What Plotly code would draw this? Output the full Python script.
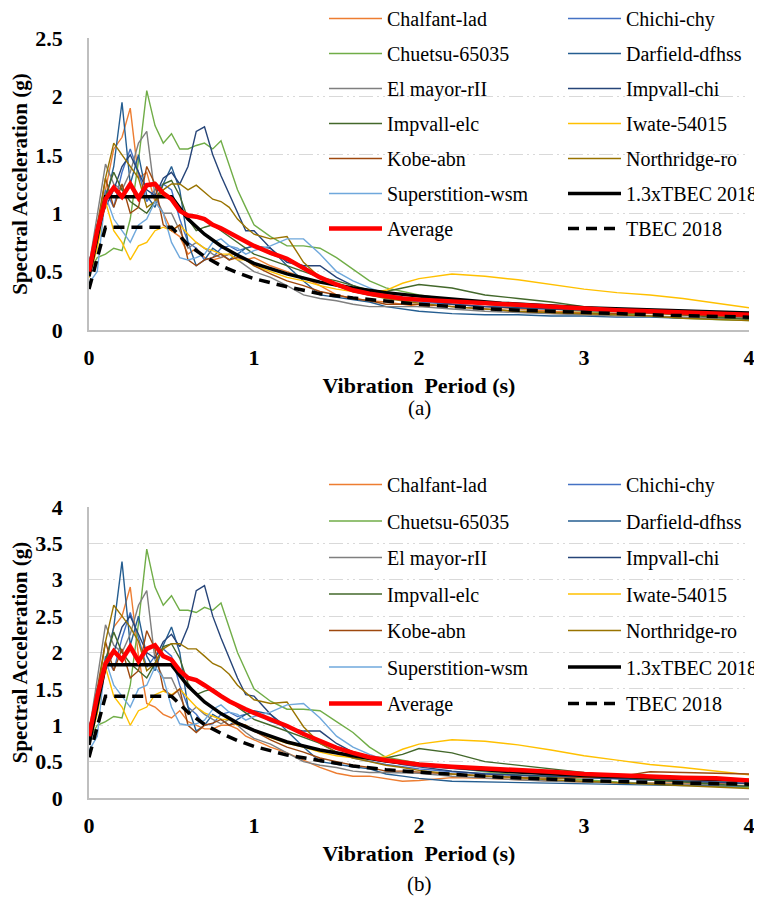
import plotly.graph_objects as go

# ---------------- data ----------------
periods = [0, 0.05, 0.1, 0.15, 0.2, 0.25, 0.3, 0.35, 0.4, 0.45, 0.5, 0.55, 0.6, 0.65, 0.7, 0.75,
           0.8, 0.85, 0.9, 0.95, 1.0, 1.1, 1.2, 1.3, 1.4, 1.5, 1.6, 1.7, 1.8, 1.9, 2.0, 2.2, 2.4,
           2.6, 2.8, 3.0, 3.2, 3.4, 3.6, 3.8, 4.0]

record_names = ["Chalfant-lad", "Chichi-chy", "Chuetsu-65035", "Darfield-dfhss", "El mayor-rII",
                "Impvall-chi", "Impvall-elc", "Iwate-54015", "Kobe-abn", "Northridge-ro",
                "Superstition-wsm"]

# panel (a)
chalfant_a = [0.50,0.90,1.20,1.55,1.65,1.90,1.30,1.35,1.10,1.00,0.85,0.80,0.65,0.70,0.62,0.60,0.62,0.65,0.65,0.60,0.62,0.55,0.50,0.45,0.38,0.30,0.27,0.25,0.24,0.22,0.20,0.22,0.20,0.18,0.16,0.15,0.14,0.14,0.13,0.12,0.12]
chichi_a = [0.45,0.75,1.20,1.05,1.35,1.55,1.35,1.10,1.20,1.25,1.20,0.95,0.75,0.70,0.60,0.62,0.70,0.72,0.68,0.70,0.72,0.65,0.60,0.55,0.45,0.38,0.33,0.30,0.28,0.26,0.24,0.22,0.20,0.19,0.18,0.17,0.16,0.15,0.14,0.13,0.12]
chuetsu_a = [0.50,0.62,0.65,0.70,0.68,0.95,1.45,2.05,1.75,1.60,1.68,1.55,1.55,1.58,1.60,1.55,1.62,1.40,1.20,1.05,0.90,0.80,0.72,0.72,0.70,0.62,0.52,0.42,0.36,0.33,0.30,0.26,0.22,0.20,0.18,0.16,0.14,0.12,0.10,0.09,0.08]
darfield_a = [0.60,0.75,1.10,1.40,1.95,1.25,1.50,1.15,1.05,1.25,1.40,1.20,0.75,0.55,0.60,0.70,0.65,0.60,0.65,0.70,0.72,0.70,0.55,0.42,0.30,0.28,0.26,0.24,0.20,0.18,0.16,0.14,0.13,0.13,0.12,0.12,0.11,0.11,0.10,0.10,0.10]
elmayor_a = [0.55,1.00,1.42,1.25,1.20,1.35,1.60,1.70,1.15,1.00,1.00,0.85,0.70,0.75,0.70,0.65,0.62,0.65,0.60,0.55,0.50,0.45,0.38,0.30,0.27,0.25,0.22,0.20,0.20,0.20,0.20,0.18,0.16,0.15,0.14,0.13,0.12,0.12,0.11,0.10,0.10]
impvallchi_a = [0.50,0.90,1.05,1.20,1.40,1.50,1.35,1.20,1.15,1.30,1.35,1.25,1.40,1.70,1.74,1.50,1.32,1.16,1.00,0.85,0.85,0.70,0.58,0.55,0.55,0.45,0.38,0.33,0.30,0.28,0.26,0.22,0.20,0.19,0.18,0.17,0.16,0.15,0.14,0.13,0.12]
impvallelc_a = [0.50,0.80,1.15,1.35,1.20,1.10,1.05,1.00,1.10,1.25,1.28,1.15,0.95,0.85,0.88,0.90,0.85,0.80,0.75,0.70,0.65,0.60,0.55,0.50,0.45,0.42,0.38,0.34,0.33,0.36,0.39,0.36,0.30,0.27,0.24,0.20,0.17,0.15,0.13,0.11,0.09]
iwate_a = [0.45,0.70,1.10,0.85,0.75,0.60,0.72,0.75,0.85,0.88,0.85,0.90,0.82,0.75,0.70,0.68,0.65,0.65,0.60,0.60,0.55,0.50,0.45,0.42,0.38,0.35,0.33,0.32,0.34,0.40,0.44,0.48,0.46,0.43,0.39,0.35,0.32,0.30,0.27,0.23,0.19]
kobe_a = [0.50,0.90,1.30,1.05,1.25,1.00,1.05,1.40,1.25,0.90,0.85,0.90,0.60,0.55,0.60,0.62,0.65,0.60,0.62,0.60,0.55,0.48,0.42,0.38,0.33,0.30,0.27,0.25,0.22,0.22,0.22,0.20,0.18,0.16,0.15,0.14,0.14,0.15,0.13,0.12,0.11]
northridge_a = [0.50,0.85,1.30,1.60,1.50,1.40,1.30,1.05,1.10,1.20,1.25,1.25,1.20,1.24,1.18,1.12,1.10,1.05,0.95,0.88,0.82,0.78,0.80,0.58,0.45,0.38,0.33,0.30,0.27,0.25,0.23,0.20,0.18,0.16,0.15,0.14,0.13,0.12,0.10,0.09,0.08]
superstition_a = [0.40,0.50,1.15,0.95,0.85,0.75,0.90,0.95,1.10,1.00,0.75,0.62,0.60,0.62,0.65,0.75,0.78,0.72,0.70,0.65,0.68,0.72,0.78,0.78,0.65,0.50,0.42,0.36,0.31,0.28,0.26,0.24,0.22,0.21,0.20,0.19,0.18,0.17,0.16,0.15,0.14]
average_a = [0.50,0.85,1.12,1.22,1.14,1.25,1.13,1.24,1.25,1.17,1.12,1.02,0.98,0.97,0.95,0.90,0.87,0.83,0.79,0.75,0.72,0.66,0.61,0.53,0.45,0.39,0.34,0.31,0.29,0.27,0.26,0.245,0.23,0.21,0.20,0.18,0.17,0.16,0.15,0.14,0.13]

# panel (b)
chalfant_b = [0.80,1.35,1.80,2.35,2.50,2.90,1.95,1.30,1.25,1.15,1.10,1.20,1.05,1.00,0.95,0.95,1.00,1.00,0.95,0.85,0.80,0.70,0.62,0.52,0.42,0.34,0.30,0.30,0.26,0.23,0.24,0.28,0.27,0.25,0.23,0.22,0.21,0.21,0.20,0.20,0.20]
chichi_b = [0.75,1.25,1.95,1.75,2.20,2.55,2.20,1.80,1.95,2.05,1.95,1.55,1.25,1.15,1.00,1.02,1.15,1.18,1.12,1.15,1.18,1.05,0.98,0.90,0.75,0.63,0.55,0.50,0.46,0.43,0.40,0.36,0.33,0.31,0.30,0.28,0.26,0.25,0.23,0.22,0.20]
chuetsu_b = [0.80,1.00,1.05,1.12,1.10,1.55,2.40,3.42,2.90,2.65,2.78,2.58,2.58,2.55,2.62,2.58,2.68,2.35,2.00,1.75,1.50,1.33,1.22,1.22,1.20,1.05,0.90,0.70,0.56,0.52,0.48,0.42,0.36,0.32,0.28,0.25,0.22,0.20,0.18,0.16,0.14]
darfield_b = [1.00,1.25,1.85,2.35,3.25,2.10,2.50,1.95,1.75,2.10,2.35,2.00,1.25,0.92,1.00,1.15,1.08,1.00,1.08,1.15,1.20,1.15,0.92,0.70,0.50,0.46,0.43,0.40,0.33,0.30,0.27,0.23,0.22,0.21,0.20,0.19,0.18,0.18,0.17,0.17,0.16]
elmayor_b = [0.90,1.65,2.38,2.10,2.00,2.25,2.65,2.85,1.90,1.65,1.65,1.40,1.15,1.25,1.15,1.08,1.02,1.08,1.00,0.90,0.82,0.74,0.62,0.50,0.45,0.42,0.37,0.35,0.35,0.35,0.34,0.30,0.27,0.25,0.23,0.22,0.20,0.20,0.18,0.17,0.17]
impvallchi_b = [0.85,1.50,1.75,2.00,2.35,2.50,2.25,2.00,1.92,2.15,2.25,2.08,2.35,2.85,2.92,2.50,2.20,1.92,1.65,1.42,1.40,1.15,0.97,0.92,0.92,0.75,0.63,0.55,0.50,0.46,0.43,0.37,0.33,0.32,0.30,0.28,0.27,0.25,0.23,0.22,0.20]
impvallelc_b = [0.85,1.35,1.90,2.28,2.00,1.85,1.75,1.65,1.85,2.08,2.12,1.92,1.58,1.42,1.47,1.50,1.42,1.33,1.25,1.17,1.08,1.00,0.92,0.83,0.75,0.70,0.63,0.57,0.55,0.60,0.68,0.62,0.50,0.45,0.40,0.34,0.29,0.25,0.22,0.19,0.16]
iwate_b = [0.75,1.15,1.80,1.40,1.25,1.00,1.20,1.25,1.42,1.47,1.42,1.50,1.37,1.25,1.17,1.13,1.08,1.08,1.00,1.00,0.92,0.83,0.75,0.70,0.63,0.58,0.55,0.53,0.57,0.67,0.74,0.80,0.78,0.73,0.66,0.58,0.52,0.46,0.42,0.37,0.32]
kobe_b = [0.85,1.50,2.15,1.75,2.05,1.65,1.75,2.30,2.05,1.50,1.40,1.50,1.00,0.90,1.00,1.03,1.08,1.00,1.03,1.00,0.92,0.80,0.70,0.63,0.55,0.50,0.45,0.42,0.37,0.37,0.36,0.33,0.30,0.28,0.27,0.28,0.29,0.36,0.35,0.34,0.33]
northridge_b = [0.85,1.40,2.15,2.65,2.50,2.35,2.15,1.75,1.85,2.05,2.12,2.12,2.05,2.05,1.95,1.85,1.80,1.70,1.55,1.45,1.35,1.30,1.32,0.98,0.75,0.63,0.55,0.50,0.45,0.42,0.38,0.33,0.30,0.27,0.25,0.23,0.21,0.19,0.17,0.15,0.13]
superstition_b = [0.65,0.85,1.90,1.55,1.40,1.25,1.50,1.55,1.80,1.65,1.25,1.02,1.00,1.02,1.07,1.22,1.28,1.18,1.15,1.07,1.12,1.18,1.28,1.30,1.10,0.85,0.70,0.60,0.52,0.47,0.44,0.40,0.37,0.35,0.33,0.31,0.30,0.28,0.27,0.25,0.23]
average_b = [0.85,1.40,1.85,2.02,1.90,2.08,1.88,2.05,2.10,1.95,1.90,1.75,1.65,1.62,1.55,1.47,1.40,1.33,1.27,1.22,1.17,1.08,0.99,0.88,0.78,0.69,0.62,0.56,0.52,0.49,0.46,0.43,0.41,0.38,0.36,0.33,0.31,0.30,0.28,0.27,0.24]

# design spectra (TBEC 2018) read at selected periods
code_periods = [0, 0.1, 0.5, 0.6, 0.7, 0.8, 0.9, 1.0, 1.2, 1.4, 1.6, 1.8, 2.0, 2.5, 3.0, 3.5, 4.0]
tbec_a = [0.35, 0.88, 0.88, 0.73, 0.63, 0.55, 0.49, 0.44, 0.37, 0.31, 0.275, 0.245, 0.22, 0.175, 0.147, 0.126, 0.11]
tbec13_a = [0.46, 1.14, 1.14, 0.95, 0.82, 0.72, 0.64, 0.57, 0.48, 0.41, 0.36, 0.32, 0.29, 0.23, 0.19, 0.165, 0.145]
tbec_b = [0.56, 1.40, 1.40, 1.18, 1.01, 0.89, 0.79, 0.71, 0.59, 0.51, 0.44, 0.39, 0.355, 0.285, 0.24, 0.21, 0.19]
tbec13_b = [0.73, 1.83, 1.83, 1.54, 1.32, 1.16, 1.03, 0.93, 0.77, 0.66, 0.58, 0.51, 0.46, 0.37, 0.31, 0.27, 0.24]

x_ticks = [0, 1, 2, 3, 4]
y_ticks_a = [0, 0.5, 1, 1.5, 2, 2.5]
y_ticks_b = [0, 0.5, 1, 1.5, 2, 2.5, 3, 3.5, 4]
y_ticktext_a = ["0", "0.5", "1", "1.5", "2", "2.5"]
y_ticktext_b = ["0", "0.5", "1", "1.5", "2", "2.5", "3", "3.5", "4"]

records_a = [chalfant_a, chichi_a, chuetsu_a, darfield_a, elmayor_a, impvallchi_a, impvallelc_a,
             iwate_a, kobe_a, northridge_a, superstition_a]
records_b = [chalfant_b, chichi_b, chuetsu_b, darfield_b, elmayor_b, impvallchi_b, impvallelc_b,
             iwate_b, kobe_b, northridge_b, superstition_b]

# ---------------- style ----------------
colors = ["#ED7D31", "#4472C4", "#70AD47", "#255E91", "#7F7F7F", "#264478", "#43682B",
          "#FFC000", "#9E480E", "#997300", "#6FA8DC"]
FONT = "Liberation Serif, Times New Roman, serif"

# the page adds an 8 px body margin, so the figure is 8 px smaller than the window
W, H = 754, 902
T_M, B_M, L_M, R_M = 30, 112, 81, 13
PH = H - T_M - B_M
PW = W - L_M - R_M

fig = go.Figure()


def add_panel(records, avg, t13, t, xa, ya, leg_left, leg_right, tag):
    entries = []
    for i, (name, vals) in enumerate(zip(record_names, records)):
        entries.append(dict(x=periods, y=vals, name=name,
                            line=dict(color=colors[i], width=1.4)))
    entries.append(dict(x=code_periods, y=t13, name="1.3xTBEC 2018",
                        line=dict(color="black", width=3.5)))
    entries.append(dict(x=periods, y=avg, name="Average",
                        line=dict(color="#FF0000", width=4.5)))
    entries.append(dict(x=code_periods, y=t, name="TBEC 2018",
                        line=dict(color="black", width=3.5, dash="11px,7px")))
    for k, e in enumerate(entries):
        fig.add_trace(go.Scatter(mode="lines", xaxis=xa, yaxis=ya,
                                 legend=leg_left if k % 2 == 0 else leg_right,
                                 legendgroup=f"{tag}{k}", **e))


add_panel(records_a, average_a, tbec13_a, tbec_a, "x", "y", "legend", "legend2", "a")
add_panel(records_b, average_b, tbec13_b, tbec_b, "x2", "y2", "legend3", "legend4", "b")


def py(page_y):
    """paper y from a page pixel row"""
    return (H - B_M - (page_y - 8)) / PH


def px(page_x):
    return (page_x - 8 - L_M) / PW


grid = dict(showgrid=True, gridcolor="#D9D9D9", gridwidth=1.3, griddash="14px,4px,2px,4px,2px,4px")
tickfont = dict(family=FONT, size=22, color="black", weight="bold")
xtitlefont = dict(family=FONT, size=22, color="black", weight="bold")
ytitlefont = dict(family=FONT, size=21, color="black", weight="bold")

xcommon = dict(range=[0, 4], tickvals=x_ticks, showgrid=False, zeroline=False,
               showline=True, linecolor="#BFBFBF", linewidth=1.5, ticks="",
               tickfont=tickfont, ticklabelstandoff=7, fixedrange=True)
ycommon = dict(zeroline=False, showline=True, linecolor="#BFBFBF",
               linewidth=1.5, ticks="", tickfont=tickfont, ticklabelstandoff=20, fixedrange=True)

fig.update_layout(
    width=W, height=H,
    margin=dict(l=L_M, r=R_M, t=T_M, b=B_M, autoexpand=False),
    paper_bgcolor="white", plot_bgcolor="white",
    font=dict(family=FONT, size=20, color="black"),
    xaxis=dict(domain=[0, 1], anchor="y",
               title=dict(text="Vibration\u00a0 Period (s)", font=xtitlefont, standoff=8), **xcommon),
    yaxis=dict(domain=[py(330), py(38)], anchor="x", range=[0, 2.5], tickvals=y_ticks_a,
               ticktext=y_ticktext_a,
               title=dict(text="Spectral Acceleration (g)", font=ytitlefont, standoff=6),
               **ycommon, **grid),
    xaxis2=dict(domain=[0, 1], anchor="y2",
                title=dict(text="Vibration\u00a0 Period (s)", font=xtitlefont, standoff=8), **xcommon),
    yaxis2=dict(domain=[py(798), py(507)], anchor="x2", range=[0, 4], tickvals=y_ticks_b,
                ticktext=y_ticktext_b,
                title=dict(text="Spectral Acceleration (g)", font=ytitlefont, standoff=6),
                **ycommon, **grid),
    showlegend=True,
)

legend_common = dict(orientation="v", xanchor="left", yanchor="top", bgcolor="rgba(0,0,0,0)",
                     borderwidth=0, itemwidth=53, traceorder="grouped",
                     font=dict(family=FONT, size=20, color="black"), itemclick=False,
                     itemdoubleclick=False)
fig.update_layout(
    legend=dict(x=px(324), y=py(-1), tracegroupgap=6, **legend_common),
    legend2=dict(x=px(563), y=py(-1), tracegroupgap=6, **legend_common),
    legend3=dict(x=px(324), y=py(465), tracegroupgap=7.5, **legend_common),
    legend4=dict(x=px(563), y=py(465), tracegroupgap=7.5, **legend_common),
)

fig.add_annotation(text="(a)", x=px(419), y=py(408), xref="paper", yref="paper", showarrow=False,
                   font=dict(family=FONT, size=21, color="black"), yanchor="middle")
fig.add_annotation(text="(b)", x=px(419), y=py(884), xref="paper", yref="paper", showarrow=False,
                   font=dict(family=FONT, size=21, color="black"), yanchor="middle")

fig.write_html("out.html")
